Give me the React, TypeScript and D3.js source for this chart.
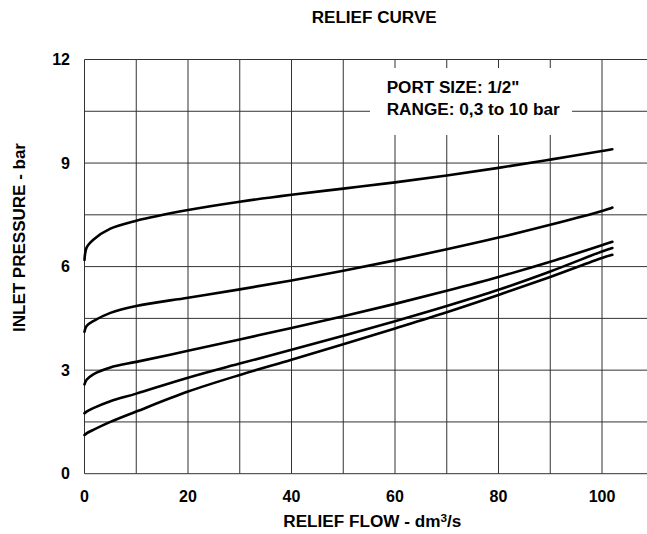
import React from 'react';
import * as d3 from 'd3';

// flow (dm3/s) sample points shared by every curve
const flow = [0, 0.4, 1.7, 5, 10, 20, 30, 40, 50, 60, 70, 80, 90, 100, 102];

// inlet pressure (bar) for each spring setting
const curve1 = [6.19, 6.55, 6.78, 7.1, 7.33, 7.64, 7.88, 8.08, 8.26, 8.44, 8.64, 8.86, 9.1, 9.35, 9.4];
const curve2 = [4.11, 4.28, 4.42, 4.66, 4.86, 5.1, 5.34, 5.6, 5.88, 6.18, 6.5, 6.84, 7.21, 7.61, 7.71];
const curve3 = [2.59, 2.72, 2.88, 3.08, 3.24, 3.56, 3.89, 4.22, 4.56, 4.92, 5.3, 5.7, 6.14, 6.62, 6.72];
const curve4 = [1.75, 1.8, 1.9, 2.1, 2.32, 2.78, 3.19, 3.59, 4.0, 4.42, 4.86, 5.33, 5.86, 6.44, 6.54];
const curve5 = [1.12, 1.17, 1.27, 1.5, 1.8, 2.38, 2.86, 3.3, 3.75, 4.21, 4.68, 5.18, 5.7, 6.25, 6.34];
const curves = [curve1, curve2, curve3, curve4, curve5];

const xTicks = [0, 20, 40, 60, 80, 100];
const yTicks = [0, 3, 6, 9, 12];
const xGrid = d3.range(0, 111, 10);
const yGrid = d3.range(0, 12.1, 1.5);

const W = 647;
const H = 534;
const font = '"Liberation Sans", Arial, sans-serif';

const App = () => {
  const x = d3.scaleLinear().domain([0, 110]).range([84.5, 84.5 + 110 * 5.175]);
  const y = d3.scaleLinear().domain([0, 12]).range([473.7, 59.5]);

  const line = d3
    .line<number>()
    .x((_, i) => x(flow[i]))
    .y((d) => y(d))
    .curve(d3.curveCatmullRom.alpha(0.5));

  return (
    <svg
      width={W}
      height={H}
      style={{ position: 'absolute', left: 0, top: 0, background: '#fff' }}
      fontFamily={font}
      fontWeight="bold"
    >
      <text x={311.7} y={23.3} fontSize={16} textLength={125} lengthAdjust="spacingAndGlyphs">
        RELIEF CURVE
      </text>

      {/* grid */}
      <g stroke="#333" strokeWidth={1}>
        {xGrid.map((v) => (
          <line key={'x' + v} x1={x(v)} x2={x(v)} y1={y(0)} y2={y(12)} />
        ))}
        {yGrid.map((v) => (
          <line key={'y' + v} x1={x(0)} x2={W} y1={y(v)} y2={y(v)} />
        ))}
      </g>

      {/* legend box knocks out the grid */}
      <rect x={370} y={68} width={202} height={67} fill="#fff" />
      <text x={386.7} y={93.3} fontSize={16} textLength={132.6} lengthAdjust="spacingAndGlyphs">
        PORT SIZE: 1/2"
      </text>
      <text x={386.7} y={115} fontSize={16} textLength={173} lengthAdjust="spacingAndGlyphs">
        RANGE: 0,3 to 10 bar
      </text>

      {/* curves */}
      <g fill="none" stroke="#000" strokeWidth={2.6} strokeLinecap="round">
        {curves.map((c, i) => (
          <path key={i} d={line(c) || ''} />
        ))}
      </g>

      {/* axes labels */}
      {yTicks.map((v) => (
        <text key={v} x={70} y={y(v)} dy="0.35em" textAnchor="end" fontSize={16}>
          {v}
        </text>
      ))}
      {xTicks.map((v) => (
        <text key={v} x={x(v)} y={501.7} textAnchor="middle" fontSize={16}>
          {v}
        </text>
      ))}
      <text x={283.3} y={527.3} fontSize={16} textLength={178} lengthAdjust="spacingAndGlyphs">
        RELIEF FLOW - dm<tspan fontSize={11} dy={-5}>3</tspan>
        <tspan dy={5}>/s</tspan>
      </text>
      <text
        transform={`translate(25, 332) rotate(-90)`}
        fontSize={16}
        textLength={189}
        lengthAdjust="spacingAndGlyphs"
      >
        INLET PRESSURE - bar
      </text>
    </svg>
  );
};

export default App;
